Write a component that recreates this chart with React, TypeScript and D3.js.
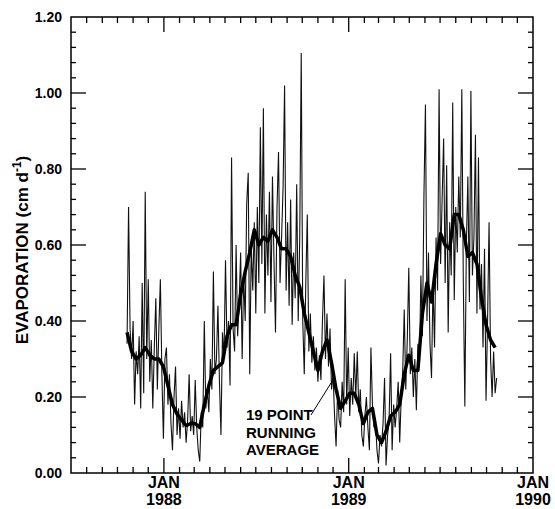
import React, { useEffect, useRef } from "react";
import * as d3 from "d3";

// daily evaporation, read every 3rd day off the picture, starting 20 Oct 1987
const startDate = new Date(1987, 9, 20);
const rawStepDays = 3;
const evaporation = [
  0.34, 0.70, 0.38, 0.30, 0.40, 0.18, 0.32, 0.26, 0.36, 0.17,
  0.50, 0.21, 0.74, 0.30, 0.51, 0.24, 0.35, 0.17, 0.33, 0.46,
  0.22, 0.38, 0.51, 0.26, 0.09, 0.30, 0.33, 0.18, 0.26, 0.13,
  0.06, 0.20, 0.28, 0.10, 0.17, 0.09, 0.19, 0.12, 0.16, 0.08,
  0.14, 0.26, 0.11, 0.15, 0.10, 0.245, 0.12, 0.06, 0.03, 0.16,
  0.12, 0.40, 0.17, 0.22, 0.16, 0.30, 0.22, 0.53, 0.26, 0.30,
  0.44, 0.24, 0.10, 0.37, 0.30, 0.56, 0.33, 0.40, 0.23, 0.83,
  0.38, 0.32, 0.60, 0.36, 0.45, 0.58, 0.30, 0.52, 0.40, 0.71,
  0.79, 0.26, 0.60, 0.48, 0.66, 0.42, 0.70, 0.50, 0.91, 0.55,
  0.96, 0.42, 0.68, 0.52, 0.74, 0.45, 0.78, 0.56, 0.37, 0.70,
  0.845, 0.50, 0.62, 0.75, 1.02, 0.48, 0.66, 0.44, 0.72, 0.39,
  0.58, 0.46, 0.76, 0.40, 0.62, 1.105, 0.40, 0.26, 0.50, 0.68,
  0.32, 0.42, 0.29, 0.36, 0.27, 0.33, 0.24, 0.31, 0.245, 0.40,
  0.52, 0.30, 0.42, 0.28, 0.38, 0.22, 0.26, 0.15, 0.07, 0.22,
  0.14, 0.12, 0.24, 0.16, 0.51, 0.18, 0.33, 0.15, 0.25, 0.18,
  0.315, 0.20, 0.32, 0.16, 0.22, 0.10, 0.07, 0.15, 0.20, 0.12,
  0.06, 0.33, 0.18, 0.12, 0.14, 0.06, 0.025, 0.10, 0.07, 0.13,
  0.25, 0.02, 0.10, 0.14, 0.315, 0.06, 0.18, 0.12, 0.17, 0.24,
  0.08, 0.20, 0.27, 0.43, 0.22, 0.35, 0.54, 0.26, 0.33, 0.20,
  0.30, 0.165, 0.34, 0.28, 0.52, 0.36, 0.73, 0.97, 0.40, 0.58,
  0.34, 0.25, 0.50, 0.33, 0.62, 0.48, 1.01, 0.55, 0.72, 0.88,
  0.50, 0.81, 0.37, 0.66, 0.52, 0.975, 0.455, 0.70, 0.58, 0.78,
  0.62, 1.01, 0.50, 0.175, 0.60, 0.78, 0.45, 1.005, 0.52, 0.62,
  0.89, 0.42, 0.83, 0.43, 0.55, 0.33, 0.59, 0.19, 0.40, 0.66,
  0.30, 0.20, 0.32, 0.21, 0.25
];

// 19 point running average, read every 9th day
const avgStepDays = 9;
const runningAverage = [
  0.37, 0.32, 0.30, 0.31, 0.33, 0.31, 0.30, 0.30, 0.28, 0.23,
  0.18, 0.155, 0.14, 0.125, 0.13, 0.13, 0.12, 0.18, 0.23, 0.27,
  0.28, 0.29, 0.36, 0.39, 0.39, 0.47, 0.53, 0.58, 0.64, 0.60,
  0.62, 0.61, 0.64, 0.62, 0.59, 0.59, 0.57, 0.52, 0.49, 0.42,
  0.37, 0.32, 0.27, 0.32, 0.35, 0.29, 0.22, 0.17, 0.19, 0.21,
  0.21, 0.18, 0.13, 0.16, 0.17, 0.10, 0.08, 0.11, 0.15, 0.16,
  0.18, 0.26, 0.31, 0.27, 0.27, 0.42, 0.50, 0.45, 0.55, 0.63,
  0.60, 0.59, 0.68, 0.68, 0.64, 0.57, 0.58, 0.55, 0.46, 0.39,
  0.35, 0.33
];

const yMajorTicks = [0, 0.2, 0.4, 0.6, 0.8, 1.0, 1.2];
const yearLabels = [1988, 1989, 1990];
const annotationLines = ["19 POINT", "RUNNING", "AVERAGE"];

const FONT = "'Liberation Sans', Arial, Helvetica, sans-serif";

export default function App() {
  const svgRef = useRef<SVGSVGElement>(null);

  useEffect(() => {
    const svg = d3.select(svgRef.current);
    svg.selectAll("*").remove();

    const left = 71, right = 533, top = 17, bottom = 473;

    const x = d3.scaleTime()
      .domain([new Date(1987, 6, 1), new Date(1990, 0, 1)])
      .range([left, right]);
    const y = d3.scaleLinear().domain([0, 1.2]).range([bottom, top]);

    const months = d3.timeMonth.range(new Date(1987, 7, 1), new Date(1990, 0, 1));
    const jans = yearLabels.map(yr => new Date(yr, 0, 1));
    const yMinor = d3.range(1, 30).map(i => i * 0.04);

    // tick marks, all pointing inward
    const ticks = svg.append("g").attr("stroke", "#000").attr("stroke-width", 1.3);
    const isJan = (d: Date) => d.getMonth() === 0;
    [bottom, top].forEach(edge => {
      const dir = edge === bottom ? -1 : 1;
      ticks.append("g").selectAll("line").data(months).join("line")
        .attr("x1", d => x(d)).attr("x2", d => x(d))
        .attr("y1", edge).attr("y2", d => edge + dir * (isJan(d) ? 15 : 6));
    });
    [left, right].forEach(edge => {
      const dir = edge === left ? 1 : -1;
      ticks.append("g").selectAll("line").data(yMinor).join("line")
        .attr("y1", d => y(d)).attr("y2", d => y(d))
        .attr("x1", edge)
        .attr("x2", d => edge + dir * (Math.abs(d / 0.2 - Math.round(d / 0.2)) < 1e-6 ? 15 : 5));
    });

    // frame
    svg.append("rect")
      .attr("x", left).attr("y", top)
      .attr("width", right - left).attr("height", bottom - top)
      .attr("fill", "none").attr("stroke", "#000").attr("stroke-width", 1.5);

    // y labels
    svg.append("g").attr("font-family", FONT).attr("font-size", 14)
      .attr("font-weight", "bold").attr("text-anchor", "end")
      .selectAll("text").data(yMajorTicks).join("text")
      .attr("x", 62).attr("y", d => y(d) + 5)
      .text(d => d3.format(".2f")(d));

    // x labels
    const xl = svg.append("g").attr("font-family", FONT).attr("font-size", 16)
      .attr("font-weight", "bold").attr("text-anchor", "middle");
    jans.forEach((d, i) => {
      xl.append("text").attr("x", x(d)).attr("y", 488).text("JAN");
      xl.append("text").attr("x", x(d)).attr("y", 505).text(String(yearLabels[i]));
    });

    // y title
    const title = svg.append("text")
      .attr("transform", "translate(28,250) rotate(-90)")
      .attr("text-anchor", "middle")
      .attr("font-family", FONT).attr("font-size", 17).attr("font-weight", "bold");
    title.append("tspan").text("EVAPORATION (cm d");
    title.append("tspan").attr("font-size", 12).attr("dy", -7).text("-1");
    title.append("tspan").attr("dy", 7).text(")");

    const raw = evaporation.map((v, i) => ({ date: d3.timeDay.offset(startDate, i * rawStepDays), v }));
    const avg = runningAverage.map((v, i) => ({ date: d3.timeDay.offset(startDate, i * avgStepDays), v }));

    const line = d3.line<{ date: Date; v: number }>()
      .x(d => x(d.date))
      .y(d => y(d.v));

    svg.append("path").datum(raw)
      .attr("d", line)
      .attr("fill", "none").attr("stroke", "#111").attr("stroke-width", 1.1);

    svg.append("path").datum(avg)
      .attr("d", line)
      .attr("fill", "none").attr("stroke", "#000").attr("stroke-width", 3.5)
      .attr("stroke-linejoin", "round");

    // annotation
    const ann = svg.append("g").attr("font-family", FONT).attr("font-size", 15)
      .attr("font-weight", "bold");
    annotationLines.forEach((t, i) => {
      ann.append("text").attr("x", 246).attr("y", 420 + i * 17.5).text(t);
    });
    svg.append("line")
      .attr("x1", 311).attr("y1", 415).attr("x2", 331).attr("y2", 383)
      .attr("stroke", "#000").attr("stroke-width", 1);
  }, []);

  return (
    <svg
      ref={svgRef}
      width={555}
      height={509}
      style={{ position: "absolute", left: 0, top: 0, background: "#fff" }}
    />
  );
}
